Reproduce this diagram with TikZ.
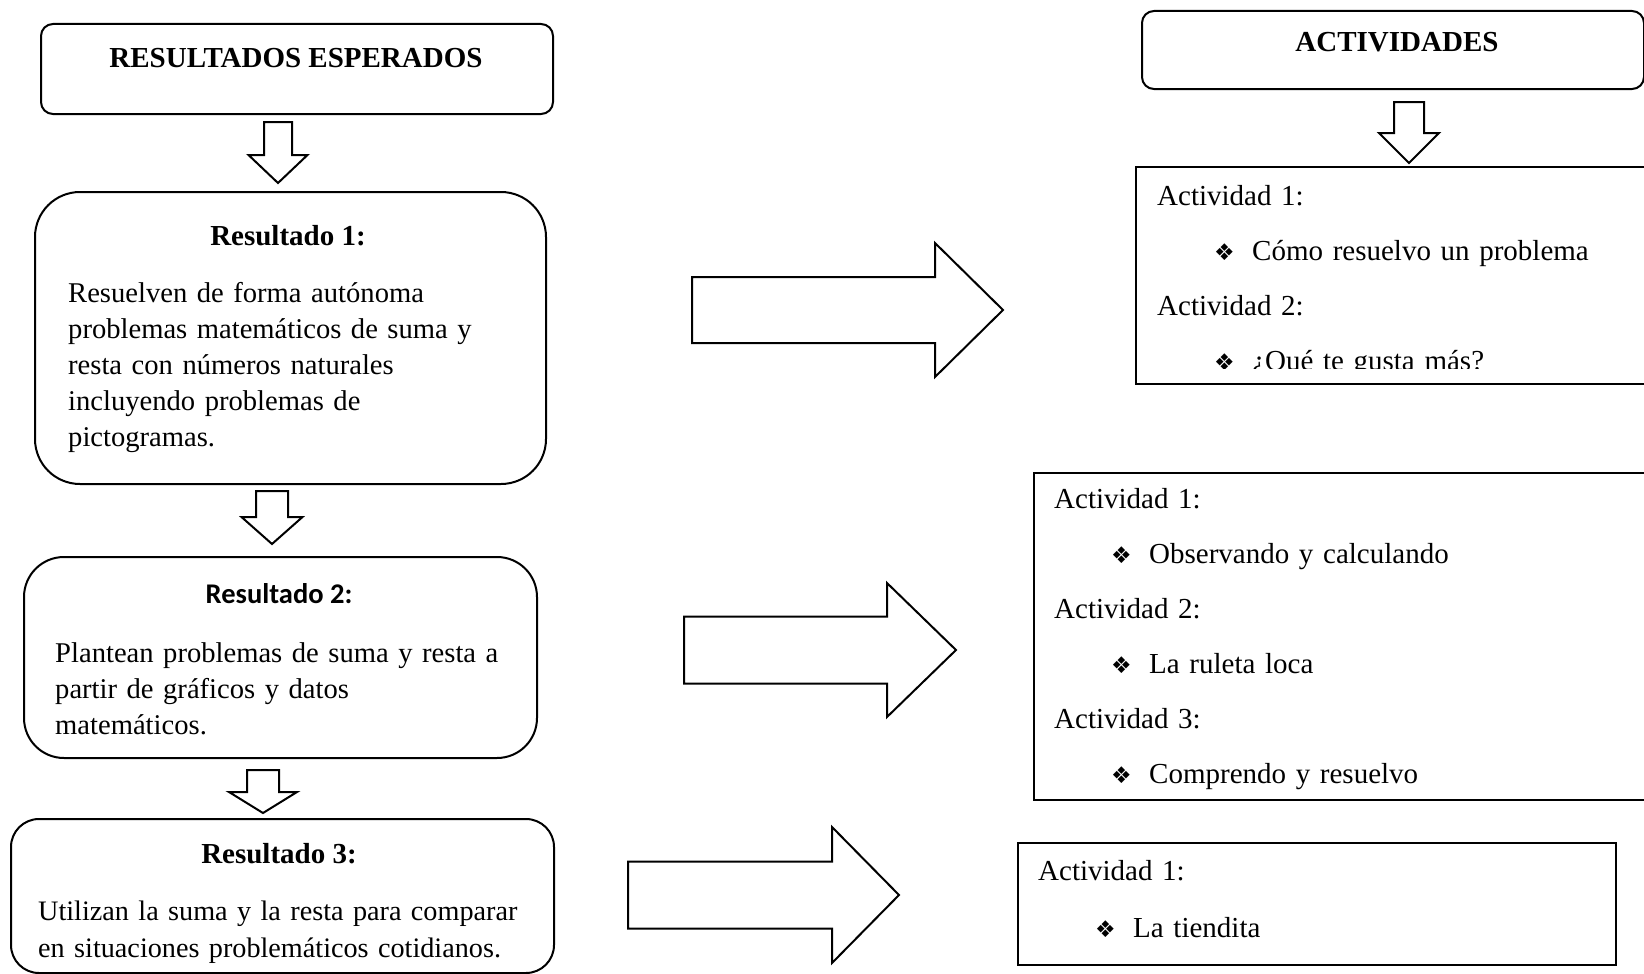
\documentclass[tikz,border=0pt]{standalone}
\usepackage{fontspec}
\setmainfont{Liberation Serif}
\newfontfamily\calibrifont{Carlito}
\newfontfamily\dingfont{DejaVu Sans}
\usetikzlibrary{positioning, calc}

\newcommand{\actbullet}{\hspace*{57pt}\makebox[38pt][l]{\dingfont\fontsize{23}{23}\selectfont ❖}}

\begin{document}
\begin{tikzpicture}[
		x=1pt, y=-1pt,
		titlebox/.style={draw, line width=2pt, rounded corners=12pt, anchor=north west, inner sep=0pt},
		resbox/.style={draw, line width=2pt, anchor=north west, inner sep=0pt},
		actbox/.style={draw, line width=2pt, anchor=north west, inner sep=0pt},
		heading/.style={font=\bfseries\fontsize{29}{36}\selectfont, anchor=base, inner sep=0pt},
		bodytext/.style={font=\fontsize{28.6}{36}\selectfont, anchor=base west, inner sep=0pt, text width=520pt, align=left},
		acttext/.style={font=\fontsize{29}{55}\selectfont, anchor=base west, inner sep=0pt, text width=520pt, align=left},
		blockarrow/.style={draw, line width=2pt, fill=white, line join=miter}
		]
		\useasboundingbox (0,0) rectangle (1644,974);
		
		% ==========================================
		% LEFT COLUMN: RESULTADOS
		% ==========================================
		\node[titlebox, minimum width=512pt, minimum height=90pt] (esperados) at (40,23) {};
		\node[heading] (esperadostxt) at (296,68) {RESULTADOS ESPERADOS};
		
		\node[resbox, rounded corners=45pt, minimum width=511pt, minimum height=292pt] (res1) at (34,191) {};
		\node[heading] (res1title) at (288,245) {Resultado 1:};
		\node[bodytext] (res1txt) at (68,302) {Resuelven de forma autónoma\\
			problemas matemáticos de suma y\\
			resta con números naturales\\
			incluyendo problemas de\\
			pictogramas.};
		
		\node[resbox, rounded corners=40pt, minimum width=513pt, minimum height=201pt] (res2) at (23,556) {};
		\node[heading, font=\calibrifont\bfseries\fontsize{28.5}{36}\selectfont] (res2title) at (279,603) {Resultado 2:};
		\node[bodytext] (res2txt) at (55,662) {Plantean problemas de suma y resta a\\
			partir de gráficos y datos\\
			matemáticos.};
		
		\node[resbox, rounded corners=28pt, minimum width=543pt, minimum height=154pt] (res3) at (10,818) {};
		\node[heading] (res3title) at (279,863) {Resultado 3:};
		\node[bodytext, font=\fontsize{28.2}{37}\selectfont] (res3txt) at (38,920) {Utilizan la suma y la resta para comparar\\
			en situaciones problemáticos cotidianos.};
		
		% ==========================================
		% RIGHT COLUMN: ACTIVIDADES
		% ==========================================
		\node[titlebox, minimum width=502pt, minimum height=78pt] (actividades) at (1141,10) {};
		\node[heading] (actividadestxt) at (1397,52) {ACTIVIDADES};
		
		\node[actbox, minimum width=540pt, minimum height=217pt] (act1) at (1135,166) {};
		\begin{scope}
			\clip (1135,166) rectangle (1644,368);
			\node[acttext] (act1txt) at (1157,205) {Actividad 1:\\
				\actbullet Cómo resuelvo un problema\\
				Actividad 2:\\
				\actbullet ¿Qué te gusta más?};
		\end{scope}
		
		\node[actbox, minimum width=640pt, minimum height=327pt] (act2) at (1033,472) {};
		\node[acttext] (act2txt) at (1054,508) {Actividad 1:\\
			\actbullet Observando y calculando\\
			Actividad 2:\\
			\actbullet La ruleta loca\\
			Actividad 3:\\
			\actbullet Comprendo y resuelvo};
		
		\node[actbox, minimum width=598pt, minimum height=122pt] (act3) at (1017,842) {};
		\node[acttext, font=\fontsize{29}{57}\selectfont] (act3txt) at (1038,880) {Actividad 1:\\
			\actbullet La tiendita};
		
		% ==========================================
		% BLOCK ARROWS
		% ==========================================
		\coordinate (da1) at (278,122);
		\coordinate (da2) at (272,491);
		\coordinate (da3) at (263,770);
		\coordinate (da4) at (1409,102);
		\coordinate (ra1) at (692,310);
		\coordinate (ra2) at (684,650);
		\coordinate (ra3) at (628,895);
		
		\draw[blockarrow] (da1) ++(-14,0) -- ++(28,0) -- ++(0,33) -- ++(15.5,0) -- ++(-29.5,28) -- ++(-29.5,-28) -- ++(15.5,0) -- cycle;
		\draw[blockarrow] (da2) ++(-16,0) -- ++(32,0) -- ++(0,26) -- ++(14.5,0) -- ++(-30.5,27) -- ++(-30.5,-27) -- ++(14.5,0) -- cycle;
		\draw[blockarrow] (da3) ++(-16,0) -- ++(32,0) -- ++(0,22) -- ++(18,0) -- ++(-34,21) -- ++(-34,-21) -- ++(18,0) -- cycle;
		\draw[blockarrow] (da4) ++(-15,0) -- ++(30,0) -- ++(0,31) -- ++(15,0) -- ++(-30,30) -- ++(-30,-30) -- ++(15,0) -- cycle;
		
		\draw[blockarrow] (ra1) ++(0,-33) -- ++(243,0) -- ++(0,-34) -- ++(68,67) -- ++(-68,67) -- ++(0,-34) -- ++(-243,0) -- cycle;
		\draw[blockarrow] (ra2) ++(0,-33.5) -- ++(203,0) -- ++(0,-33.5) -- ++(69,67) -- ++(-69,67) -- ++(0,-33.5) -- ++(-203,0) -- cycle;
		\draw[blockarrow] (ra3) ++(0,-33.5) -- ++(204,0) -- ++(0,-34.5) -- ++(67,68) -- ++(-67,68) -- ++(0,-34.5) -- ++(-204,0) -- cycle;
		
	\end{tikzpicture}
\end{document}
